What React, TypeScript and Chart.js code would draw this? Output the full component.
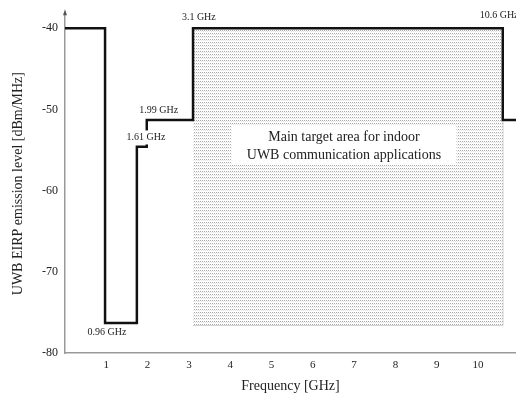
import React, { useEffect, useRef } from "react";
import { Chart, registerables } from "chart.js";

Chart.register(...registerables);

// Emission mask (step points, GHz / dBm/MHz as drawn)
const maskFreq = [0, 0.97, 1.74, 1.98, 3.1, 10.6, 10.95];
const maskLevel = [-40, -76.3, -54.6, -51.3, -40, -51.3, -51.3];

// Target area (shaded)
const areaFreq = [3.1, 10.6];
const areaTop = -40;
const areaBottom = -76.6;
const areaRightLevel = -51.3;

const yTicks = [-80, -70, -60, -50, -40];
const xTicks = [1, 2, 3, 4, 5, 6, 7, 8, 9, 10];

// Annotations: [text, freq, level, whiteBackground]
const annotations: [string, number, number, boolean][] = [
  ["3.1 GHz", 2.83, -38.6, false],
  ["10.6 GHz", 10.04, -38.4, false],
  ["1.99 GHz", 1.8, -50.1, false],
  ["1.61 GHz", 1.49, -53.45, true],
  ["0.96 GHz", 0.545, -77.5, false],
];
const boxLines = ["Main target area for indoor", "UWB communication applications"];
const boxFreq = [4.03, 9.48];
const boxLevel = [-52.0, -56.7];
const textLevels = [-53.45, -55.7];

const SERIF = '"Liberation Serif", "Times New Roman", serif';

function makePattern(): CanvasPattern | string {
  const c = document.createElement("canvas");
  c.width = 2;
  c.height = 3;
  const g = c.getContext("2d");
  if (!g) return "#ddd";
  g.fillStyle = "#ffffff";
  g.fillRect(0, 0, 2, 3);
  g.fillStyle = "#a8a8a8";
  g.fillRect(0, 0, 1, 1);
  g.fillStyle = "#e4e4e4";
  g.fillRect(1, 1, 1, 1);
  const p = g.createPattern(c, "repeat");
  return p || "#ddd";
}

export default function App() {
  const ref = useRef<HTMLCanvasElement | null>(null);

  useEffect(() => {
    if (!ref.current) return;
    const pattern = makePattern();

    const overlay = {
      id: "overlay",
      afterDatasetsDraw(chart: any) {
        const ctx = chart.ctx;
        const xs = chart.scales.x;
        const ys = chart.scales.y;
        ctx.save();
        const x0 = xs.getPixelForValue(boxFreq[0]);
        const x1 = xs.getPixelForValue(boxFreq[1]);
        const y0 = ys.getPixelForValue(boxLevel[0]);
        const y1 = ys.getPixelForValue(boxLevel[1]);
        ctx.fillStyle = "#ffffff";
        ctx.fillRect(x0, y0, x1 - x0, y1 - y0);
        ctx.fillStyle = "#222";
        ctx.font = `14px ${SERIF}`;
        ctx.textAlign = "center";
        ctx.textBaseline = "middle";
        const cx = (x0 + x1) / 2;
        boxLines.forEach((t, i) => ctx.fillText(t, cx, ys.getPixelForValue(textLevels[i])));
        ctx.font = `10px ${SERIF}`;
        ctx.textAlign = "left";
        annotations.forEach(([t, f, l, bg]) => {
          const px = xs.getPixelForValue(f);
          const py = ys.getPixelForValue(l);
          if (bg) {
            const w = ctx.measureText(t).width;
            ctx.fillStyle = "#ffffff";
            ctx.fillRect(px - 1, py - 7, w + 2, 14);
          }
          ctx.fillStyle = "#222";
          ctx.fillText(t, px, py);
        });
        ctx.restore();
      },
      afterDraw(chart: any) {
        const ctx = chart.ctx;
        const left = chart.chartArea.left;
        const top = chart.chartArea.top;
        ctx.save();
        ctx.fillStyle = "#555";
        ctx.beginPath();
        ctx.moveTo(left, top - 5);
        ctx.lineTo(left - 2, top + 1);
        ctx.lineTo(left + 2, top + 1);
        ctx.closePath();
        ctx.fill();
        ctx.restore();
      },
    };

    const chart = new Chart(ref.current, {
      type: "line",
      data: {
        datasets: [
          {
            data: maskFreq.map((f, i) => ({ x: f, y: maskLevel[i] })),
            stepped: "before",
            borderColor: "#111",
            borderWidth: 2.5,
            pointRadius: 0,
            fill: false,
          } as any,
          {
            data: areaFreq.map((f) => ({ x: f, y: areaTop })),
            borderWidth: 0,
            borderColor: "rgba(0,0,0,0)",
            backgroundColor: pattern as any,
            pointRadius: 0,
            fill: { value: areaBottom },
          },
          {
            data: [
              { x: areaFreq[0], y: areaBottom },
              { x: areaFreq[1], y: areaBottom },
              { x: areaFreq[1], y: areaRightLevel },
            ],
            borderColor: "#aaa",
            borderWidth: 1,
            pointRadius: 0,
            fill: false,
          },
        ],
      },
      options: {
        animation: false,
        responsive: false,
        devicePixelRatio: 1,
        layout: { padding: { top: 6, right: 0, left: 0, bottom: 0 } },
        plugins: { legend: { display: false }, tooltip: { enabled: false } },
        scales: {
          x: {
            type: "linear",
            min: 0,
            max: 10.92,
            afterBuildTicks: (s: any) => {
              s.ticks = xTicks.map((v) => ({ value: v }));
            },
            afterFit: (s: any) => {
              s.height = 46;
            },
            grid: { display: false, drawTicks: false },
            border: { display: true, color: "#999", width: 1.5 },
            ticks: {
              padding: 6,
              color: "#222",
              font: { family: SERIF, size: 11 },
              maxRotation: 0,
              autoSkip: false,
            },
            title: {
              display: true,
              text: "Frequency [GHz]",
              color: "#222",
              font: { family: SERIF, size: 14 },
              padding: { top: 0, bottom: 4 },
            },
          },
          y: {
            type: "linear",
            min: -80,
            max: -38.27,
            afterBuildTicks: (s: any) => {
              s.ticks = yTicks.map((v) => ({ value: v }));
            },
            afterFit: (s: any) => {
              s.width = 65;
            },
            grid: { display: false, drawTicks: false },
            border: { display: true, color: "#999", width: 1.5 },
            ticks: {
              padding: 7,
              color: "#222",
              font: { family: SERIF, size: 12 },
            },
            title: {
              display: true,
              text: "UWB EIRP emission level [dBm/MHz]",
              color: "#222",
              font: { family: SERIF, size: 14 },
              padding: { top: 10, bottom: 0 },
            },
          },
        },
      },
      plugins: [overlay],
    });
    return () => chart.destroy();
  }, []);

  return (
    <div style={{ position: "fixed", left: 0, top: 0, width: 516, height: 399, background: "#fff" }}>
      <canvas ref={ref} width={516} height={399} />
    </div>
  );
}
